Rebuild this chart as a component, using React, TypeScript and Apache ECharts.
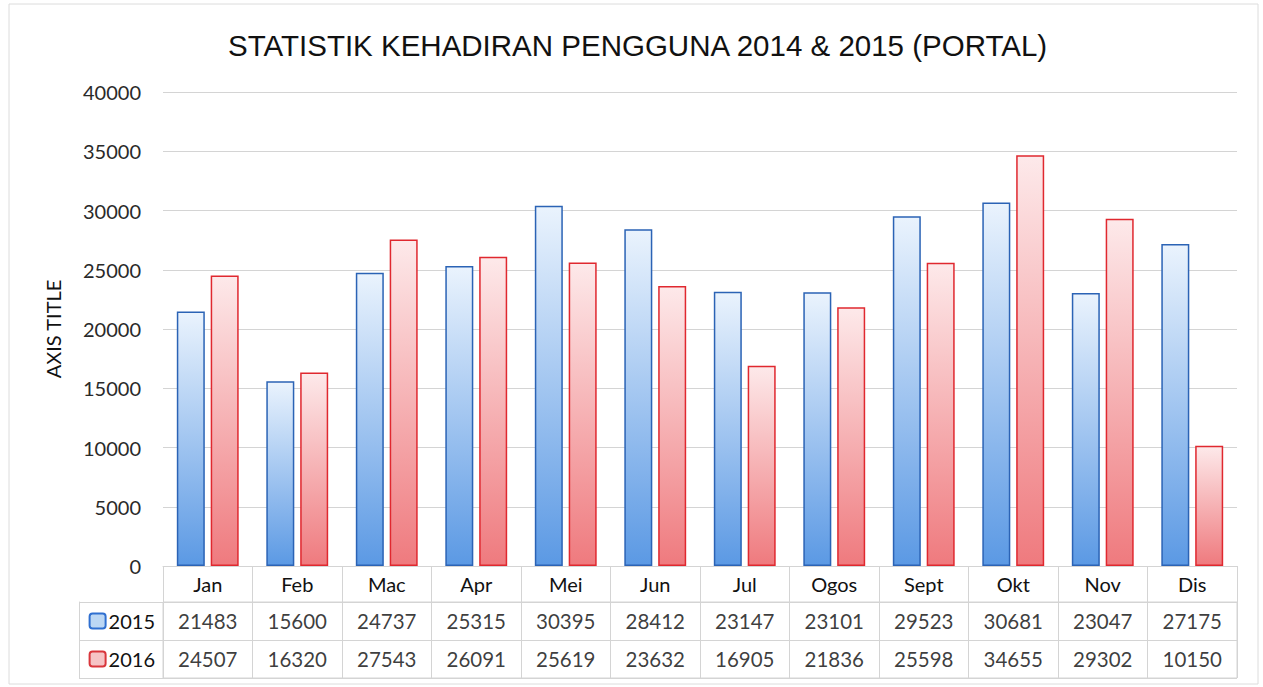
import React, { useEffect, useRef } from "react";
import * as echarts from "echarts";

const months = ["Jan", "Feb", "Mac", "Apr", "Mei", "Jun", "Jul", "Ogos", "Sept", "Okt", "Nov", "Dis"];
const years = ["2015", "2016"];
const values2015 = [21483, 15600, 24737, 25315, 30395, 28412, 23147, 23101, 29523, 30681, 23047, 27175];
const values2016 = [24507, 16320, 27543, 26091, 25619, 23632, 16905, 21836, 25598, 34655, 29302, 10150];
const chartTitle = "STATISTIK KEHADIRAN PENGGUNA 2014 & 2015 (PORTAL)";
const axisTitle = "AXIS TITLE";

const GRID_LINE = "#d4d4d4";
const FONT = "Lato";

export default function App() {
  const ref = useRef<HTMLDivElement>(null);
  useEffect(() => {
    document.body.style.margin = "0";
    if (!ref.current) return;
    const chart = echarts.init(ref.current, undefined, { renderer: "svg" });
    const blueGrad = new echarts.graphic.LinearGradient(0, 0, 0, 1, [
      { offset: 0, color: "#eaf3fd" },
      { offset: 1, color: "#5b99e4" },
    ]);
    const redGrad = new echarts.graphic.LinearGradient(0, 0, 0, 1, [
      { offset: 0, color: "#fde9ea" },
      { offset: 1, color: "#ef7a7e" },
    ]);
    const tableData: any[] = [];
    months.forEach((_, i) => {
      tableData.push([i, 0, values2015[i]]);
      tableData.push([i, 1, values2016[i]]);
    });
    chart.setOption({
      animation: false,
      backgroundColor: "#ffffff",
      title: {
        text: chartTitle,
        left: 223,
        top: 25,
        textStyle: { fontFamily: "Liberation Sans", fontSize: 29.5, fontWeight: "normal", color: "#111" },
      },
      graphic: [
        {
          type: "rect",
          shape: { x: 9, y: 4, width: 1249, height: 680 },
          style: { fill: "none", stroke: "#dcdcdc", lineWidth: 1 },
          silent: true,
        },
      ],
      grid: [
        { left: 163, right: 26, top: 92, height: 474 },
        { left: 163, right: 26, top: 602, height: 76, show: true, borderColor: GRID_LINE, borderWidth: 1 },
      ],
      xAxis: [
        {
          gridIndex: 0,
          type: "category",
          data: months,
          axisLine: { show: true, lineStyle: { color: GRID_LINE } },
          axisTick: { show: true, interval: 0, length: 36, lineStyle: { color: GRID_LINE } },
          axisLabel: { interval: 0, margin: 8, fontFamily: FONT, fontSize: 20, color: "#111" },
        },
        {
          gridIndex: 1,
          type: "category",
          data: months,
          axisLine: { show: false },
          axisTick: { show: false },
          axisLabel: { show: false },
          splitLine: { show: true, interval: 0, lineStyle: { color: GRID_LINE } },
        },
      ],
      yAxis: [
        {
          gridIndex: 0,
          type: "value",
          min: 0,
          max: 40000,
          interval: 5000,
          name: axisTitle,
          nameLocation: "middle",
          nameRotate: 90,
          nameGap: 100,
          nameTextStyle: { fontFamily: FONT, fontSize: 20, color: "#111" },
          axisLine: { show: false },
          axisTick: { show: false },
          axisLabel: {
            margin: 22,
            formatter: (v: number) => String(v),
            fontFamily: FONT,
            fontSize: 20,
            color: "#2a2a2a",
          },
          splitLine: { lineStyle: { color: GRID_LINE } },
        },
        {
          gridIndex: 1,
          type: "category",
          data: years,
          inverse: true,
          axisLine: { show: false },
          axisTick: { show: true, interval: 0, length: 84, lineStyle: { color: GRID_LINE } },
          splitLine: { show: true, interval: 0, lineStyle: { color: GRID_LINE } },
          axisLabel: {
            margin: 8,
            formatter: (v: string) => `{b${v}|}{t|${v}}`,
            rich: {
              b2015: { width: 14, height: 13, backgroundColor: "#bcd7f4", borderColor: "#2f6fd0", borderWidth: 2, borderRadius: 2 },
              b2016: { width: 14, height: 13, backgroundColor: "#f6c4c6", borderColor: "#d9363c", borderWidth: 2, borderRadius: 2 },
              t: { fontFamily: FONT, fontSize: 20, color: "#111", padding: [0, 0, 0, 4] },
            },
          },
        },
        {
          gridIndex: 1,
          type: "category",
          data: years,
          inverse: true,
          position: "left",
          offset: 84,
          axisLine: { show: true, lineStyle: { color: GRID_LINE } },
          axisTick: { show: false },
          axisLabel: { show: false },
        },
      ],
      series: [
        {
          name: "2015",
          type: "bar",
          xAxisIndex: 0,
          yAxisIndex: 0,
          data: values2015,
          barWidth: 28,
          barGap: "21%",
          itemStyle: { color: blueGrad, borderColor: "#2b63b5", borderWidth: 1.5 },
        },
        {
          name: "2016",
          type: "bar",
          xAxisIndex: 0,
          yAxisIndex: 0,
          data: values2016,
          barWidth: 28,
          barGap: "21%",
          itemStyle: { color: redGrad, borderColor: "#e0282f", borderWidth: 1.5 },
        },
        {
          type: "scatter",
          xAxisIndex: 1,
          yAxisIndex: 1,
          data: tableData,
          symbolSize: 1,
          itemStyle: { color: "rgba(0,0,0,0)" },
          label: {
            show: true,
            position: "inside",
            formatter: (p: any) => String(p.value[2]),
            fontFamily: FONT,
            fontSize: 20.5,
            color: "#0a0a0a",
          },
          silent: true,
        },
      ],
    });
    return () => chart.dispose();
  }, []);
  return <div ref={ref} style={{ width: 1263, height: 687 }} />;
}
